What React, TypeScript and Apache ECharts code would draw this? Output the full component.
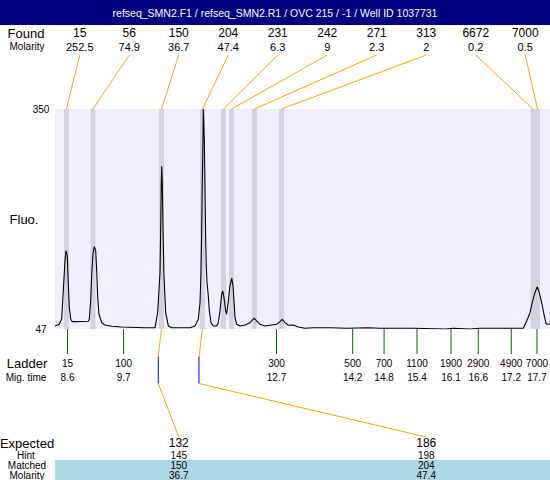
import React, { useEffect, useRef } from "react";
import * as echarts from "echarts";

const titleText = "refseq_SMN2.F1 / refseq_SMN2.R1 / OVC 215 / -1 / Well ID 1037731";

// electropherogram trace: migration time (s) and fluorescence
const traceTime = [
  8.377, 8.455, 8.507, 8.538, 8.571, 8.591, 8.616, 8.635, 8.655, 8.682, 8.713, 8.766, 9.024, 9.043,
  9.07, 9.09, 9.115, 9.14, 9.168, 9.187, 9.206, 9.232, 9.284, 9.348, 9.478, 9.673, 10.125, 10.32,
  10.372, 10.417, 10.43, 10.442, 10.45, 10.461, 10.475, 10.494, 10.527, 10.578, 10.644, 10.999,
  11.096, 11.161, 11.194, 11.213, 11.227, 11.238, 11.252, 11.258, 11.271, 11.277, 11.291, 11.304,
  11.316, 11.33, 11.355, 11.375, 11.408, 11.452, 11.518, 11.549, 11.582, 11.615, 11.635, 11.66,
  11.693, 11.712, 11.744, 11.776, 11.81, 11.835, 11.854, 11.874, 11.906, 11.971, 12.068, 12.165,
  12.243, 12.295, 12.359, 12.456, 12.586, 12.684, 12.748, 12.792, 12.845, 12.909, 13.006, 13.103,
  13.233, 13.394, 13.719, 14.043, 14.463, 14.69, 15.337, 15.953, 16.114, 16.438, 16.633, 17.474,
  17.54, 17.604, 17.656, 17.701, 17.746, 17.785, 17.831, 17.876, 17.915, 17.948, 17.993,
];
const traceFluo = [
  51.2, 53.2, 60.8, 99.6, 141.1, 154.9, 148.0, 108.8, 76.5, 60.4, 57.1, 57.1, 57.7, 60.4,
  85.7, 122.7, 150.4, 160.5, 154.9, 127.2, 90.3, 67.3, 55.7, 52.5, 50.7, 49.8, 48.8, 48.8,
  69.6, 124.9, 185.4, 249.4, 271.1, 249.4, 185.4, 120.3, 69.6, 51.2, 48.8, 48.8,
  51.2, 60.4, 83.4, 124.9, 184.9, 249.4, 309.5, 350, 350, 309.5, 240.3, 171.1,
  134.2, 111.1, 92.7, 71.9, 55.7, 51.2, 51.2, 55.7, 71.9, 95.0, 99.6, 90.3,
  71.9, 67.3, 85.7, 106.5, 117.1, 106.5, 85.7, 62.6, 53.5, 51.2, 52.5, 55.7,
  61.8, 58.1, 53.5, 51.2, 52.5, 53.5, 57.1, 60.4, 55.7, 52.1, 52.5, 49.8,
  48.0, 48.8, 48.8, 48.0, 48.8, 48.0, 48.0, 47.0, 48.0, 47.0, 48.0, 48.0,
  58.1, 69.6, 85.7, 97.2, 105.1, 97.2, 83.4, 67.3, 54.3, 53.5, 54.3,
];

// found peaks
const foundSizes = [15, 56, 150, 204, 231, 242, 271, 313, 6672, 7000];
const foundMolarity = [252.5, 74.9, 36.7, 47.4, 6.3, 9, 2.3, 2, 0.2, 0.5];
const foundTimes = [8.6, 9.115, 10.446, 11.242, 11.65, 11.806, 12.252, 12.777, 17.662, 17.75];

// ladder
const ladderSizes = [15, 100, 300, 500, 700, 1100, 1900, 2900, 4900, 7000];
const ladderTimes = [8.62, 9.71, 12.68, 14.16, 14.77, 15.41, 16.07, 16.6, 17.24, 17.74];

// expected / matched
const expectedSizes = [132, 186];
const hintSizes = [145, 198];
const matchedSizes = [150, 204];
const matchedMolarity = [36.7, 47.4];
const matchedTimes = [10.446, 11.242];
const hintTimes = [10.383, 11.174];

const yMin = 47;
const yMax = 350;
const xMin = 8.377;
const xMax = 17.993;

const FONT = "Arial, 'Liberation Sans', sans-serif";

function txt(x: number, y: number, text: string, size: number, fill = "#000", extra: any = {}) {
  return {
    type: "text",
    x,
    y,
    style: {
      text,
      font: `${size}px ${FONT}`,
      fill,
      align: "center",
      verticalAlign: "middle",
      textAlign: "center",
      textVerticalAlign: "middle",
    },
    ...extra,
  };
}

export default function App() {
  const ref = useRef<HTMLDivElement>(null);
  useEffect(() => {
    if (!ref.current) return;
    const chart = echarts.init(ref.current, null, { renderer: "svg" });
    const traceData = traceTime.map((t, i) => [t, traceFluo[i]]);
    const option: any = {
      animation: false,
      grid: {
        left: 55,
        right: 0,
        top: 109,
        height: 220,
        show: true,
        backgroundColor: "#EFEFFF",
        borderWidth: 0,
      },
      xAxis: {
        type: "value",
        min: xMin,
        max: xMax,
        show: false,
      },
      yAxis: {
        type: "value",
        min: yMin,
        max: yMax,
        interval: yMax - yMin,
        axisLine: { show: false },
        axisTick: { show: false },
        splitLine: { show: false },
        axisLabel: {
          fontSize: 10,
          fontFamily: FONT,
          color: "#000",
          align: "center",
          margin: 14,
        },
      },
      graphic: [
        { type: "rect", shape: { x: 0, y: 0, width: 550, height: 25 }, style: { fill: "#000080" } },
        txt(275, 12.5, titleText, 10.5, "#fff"),
        txt(26, 33, "Found", 13),
        txt(27, 46.5, "Molarity", 10),
        txt(24, 219, "Fluo.", 13),
        txt(27, 363, "Ladder", 13),
        txt(26, 377, "Mig. time", 10),
        { type: "rect", shape: { x: 55, y: 460, width: 495, height: 20 }, style: { fill: "#ADD8E6" } },
        txt(27, 443, "Expected", 13),
        txt(26, 455, "Hint", 10),
        txt(27, 465, "Matched", 10),
        txt(27, 475, "Molarity", 10),
      ],
      series: [
        {
          type: "custom",
          z: 1,
          clip: false,
          silent: true,
          encode: { x: 0, y: 1 },
          data: foundTimes.map((t) => [t, yMax]),
          renderItem: (params: any, api: any) => {
            const i = params.dataIndex;
            const cs = params.coordSys;
            const t = api.value(0);
            const top = api.coord([t, yMax]);
            const bot = api.coord([t, yMin]);
            const slotX = cs.x + ((i + 0.5) * cs.width) / foundSizes.length;
            return {
              type: "group",
              children: [
                {
                  type: "rect",
                  shape: { x: top[0] - 2.5, y: top[1], width: 5, height: bot[1] - top[1] },
                  style: { fill: "#D0D0DD", opacity: 0.92 },
                },
                {
                  type: "line",
                  shape: { x1: slotX, y1: 55, x2: top[0], y2: top[1] },
                  style: { stroke: "#FFA500", lineWidth: 1 },
                },
                txt(slotX, 33, String(foundSizes[i]), 12),
                txt(slotX, 46.5, String(foundMolarity[i]), 11),
              ],
            };
          },
        },
        {
          type: "line",
          z: 3,
          data: traceData,
          showSymbol: false,
          symbol: "none",
          lineStyle: { color: "#000", width: 1.1 },
          silent: true,
        },
        {
          type: "custom",
          z: 4,
          clip: false,
          silent: true,
          encode: { x: 0, y: 1 },
          data: ladderTimes.map((t) => [t, yMin]),
          renderItem: (params: any, api: any) => {
            const i = params.dataIndex;
            const p = api.coord([api.value(0), yMin]);
            return {
              type: "group",
              children: [
                {
                  type: "line",
                  shape: { x1: p[0], y1: p[1], x2: p[0], y2: p[1] + 25 },
                  style: { stroke: "#006600", lineWidth: 1 },
                },
                txt(p[0], p[1] + 34, String(ladderSizes[i]), 10),
                txt(p[0], p[1] + 48, ladderTimes[i].toFixed(1), 10),
              ],
            };
          },
        },
        {
          type: "custom",
          z: 4,
          clip: false,
          silent: true,
          encode: { x: 0, y: 1 },
          data: matchedTimes.map((t, i) => [t, yMin, hintTimes[i]]),
          renderItem: (params: any, api: any) => {
            const i = params.dataIndex;
            const cs = params.coordSys;
            const peak = api.coord([api.value(0), yMin]);
            const hint = api.coord([api.value(2), yMin]);
            const expX = cs.x + ((i + 0.5) * cs.width) / expectedSizes.length;
            const y1 = peak[1] + 27.5;
            const y2 = peak[1] + 54.5;
            return {
              type: "group",
              children: [
                {
                  type: "line",
                  shape: { x1: peak[0], y1: peak[1], x2: hint[0], y2: y1 },
                  style: { stroke: "#FFA500", lineWidth: 1 },
                },
                {
                  type: "line",
                  shape: { x1: hint[0], y1, x2: hint[0], y2 },
                  style: { stroke: "#0000FF", lineWidth: 1 },
                },
                {
                  type: "line",
                  shape: { x1: hint[0], y1: y2, x2: expX, y2: 437 },
                  style: { stroke: "#FFA500", lineWidth: 1 },
                },
                txt(expX, 443, String(expectedSizes[i]), 12),
                txt(expX, 455, String(hintSizes[i]), 10),
                txt(expX, 465, String(matchedSizes[i]), 10),
                txt(expX, 475, String(matchedMolarity[i]), 10),
              ],
            };
          },
        },
      ],
    };
    chart.setOption(option);
    return () => chart.dispose();
  }, []);
  return (
    <div
      ref={ref}
      style={{ position: "absolute", left: 0, top: 0, width: 550, height: 480, background: "#fff" }}
    />
  );
}
